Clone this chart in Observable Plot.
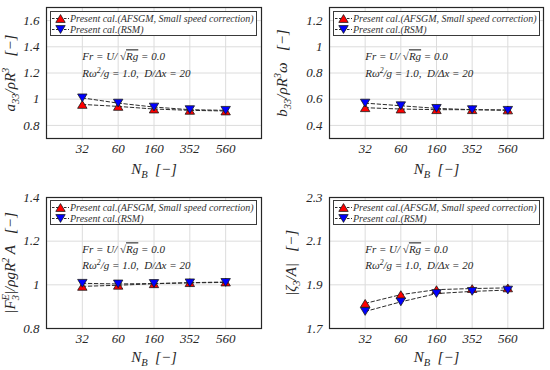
<!DOCTYPE html>
<html>
<head>
<meta charset="utf-8">
<script src="https://cdn.jsdelivr.net/npm/d3@7"></script>
<script src="https://cdn.jsdelivr.net/npm/@observablehq/plot@0.6"></script>
<style>
  body { margin: 0; background: #fff; }
  #root { position: relative; width: 550px; height: 370px; overflow: hidden; background: #fff; }
  .panel { position: absolute; width: 275px; height: 185px; }
  .panel svg.plot { position: absolute; left: 0; top: 0; }
  .legend { position: absolute; border: 1px solid #3a3a3a; background: #fff;
    font-family: "Liberation Serif", "DejaVu Serif", serif; font-style: italic; font-size: 10px; color: #333;
    line-height: 11px; padding: 0.5px 2px 0.5px 1px; white-space: nowrap; }
  .legend .row { display: flex; align-items: center; height: 11px; }
  .legend svg { margin-right: 1px; }
</style>
</head>
<body>
<div id="root"></div>
<script>
// ---- data ----
const NB = ["32", "60", "160", "352", "560"];
const seriesNames = ["Present cal.(AFSGM, Small speed correction)", "Present cal.(RSM)"];

const a33_afsgm = [0.96, 0.945, 0.925, 0.915, 0.91];
const a33_rsm   = [1.01, 0.97, 0.94, 0.92, 0.915];
const b33_afsgm = [0.535, 0.525, 0.52, 0.52, 0.518];
const b33_rsm   = [0.57, 0.55, 0.53, 0.52, 0.515];
const f3_afsgm  = [0.993, 0.998, 1.005, 1.01, 1.013];
const f3_rsm    = [1.007, 1.004, 1.006, 1.009, 1.011];
const z3_afsgm  = [1.815, 1.855, 1.878, 1.883, 1.886];
const z3_rsm    = [1.778, 1.822, 1.86, 1.87, 1.876];

const ticksA = [0.8, 1, 1.2, 1.4, 1.6];
const ticksB = [0.4, 0.6, 0.8, 1, 1.2];
const ticksF = [0.8, 1, 1.2, 1.4];
const ticksZ = [1.7, 1.9, 2.1, 2.3];

const yLabels = ["a_{33}/ρR^{3}   [−]", "b_{33}/ρR^{3}ω   [−]", "|F^{E}_{3}|/ρgR^{2} A   [−]", "|ζ_{3}/A|   [−]"];
const xLabel = "N_{B}  [−]";
const annot = ["Fr = U/ √~{Rg} = 0.0", "Rω^{2}/g = 1.0,  D/Δx = 20"];

// ---- symbols (bounding-box centred triangles) ----
const triUp = { draw(ctx, size) { const r = Math.sqrt(size / Math.PI); const w = 2.35 * r, h = 1.95 * r;
  ctx.moveTo(0, -h / 2); ctx.lineTo(w / 2, h / 2); ctx.lineTo(-w / 2, h / 2); ctx.closePath(); } };
const triDown = { draw(ctx, size) { const r = Math.sqrt(size / Math.PI); const w = 2.35 * r, h = 1.95 * r;
  ctx.moveTo(0, h / 2); ctx.lineTo(w / 2, -h / 2); ctx.lineTo(-w / 2, -h / 2); ctx.closePath(); } };

const FONT = "Liberation Serif, DejaVu Serif, serif";
const INK = "#262626";

function richText(el, fs) {
  const src = el.textContent;
  const re = /([_^~])\{([^}]*)\}/g;
  while (el.firstChild) el.removeChild(el.firstChild);
  const ns = "http://www.w3.org/2000/svg";
  let last = 0, off = 0, m, prevSup = null;
  const add = (txt, kind) => {
    const t = document.createElementNS(ns, "tspan");
    let target = 0;
    if (kind === "_") { target = 0.27 * fs; t.setAttribute("font-size", 0.7 * fs); }
    else if (kind === "^") { target = -0.38 * fs; t.setAttribute("font-size", 0.7 * fs); }
    if (kind === "_" && prevSup) t.setAttribute("dx", -prevSup);
    if (target !== off) { t.setAttribute("dy", target - off); off = target; }
    if (kind === "~") t.style.textDecoration = "overline";
    t.textContent = txt;
    el.appendChild(t);
  };
  while ((m = re.exec(src))) {
    if (m.index > last) { add(src.slice(last, m.index), ""); prevSup = null; }
    add(m[2], m[1]);
    prevSup = m[1] === "^" ? 0.6 * 0.7 * fs * m[2].length : null;
    last = re.lastIndex;
  }
  if (last < src.length) add(src.slice(last), "");
}

const panels = [
  { left: 0,   top: 0,   afsgm: a33_afsgm, rsm: a33_rsm, domain: [0.7, 1.7], ticks: ticksA, ylabel: yLabels[0],
    ml: 46, mr: 14, mt: 7,  mb: 47, ylo: 42, xlo: 35, ad: [45, 62], lg: 4 },
  { left: 275, top: 0,   afsgm: b33_afsgm, rsm: b33_rsm, domain: [0.3, 1.3], ticks: ticksB, ylabel: yLabels[1],
    ml: 54, mr: 7,  mt: 7,  mb: 47, ylo: 53, xlo: 35, ad: [45, 62], lg: 4 },
  { left: 0,   top: 185, afsgm: f3_afsgm,  rsm: f3_rsm,  domain: [0.8, 1.4], ticks: ticksF, ylabel: yLabels[2],
    ml: 46, mr: 14, mt: 12, mb: 42, ylo: 42, xlo: 33, ad: [48, 64], lg: 3 },
  { left: 275, top: 185, afsgm: z3_afsgm,  rsm: z3_rsm,  domain: [1.7, 2.3], ticks: ticksZ, ylabel: yLabels[3],
    ml: 54, mr: 7,  mt: 12, mb: 42, ylo: 44, xlo: 33, ad: [48, 64], lg: 3 }
];

const root = document.getElementById("root");
const idx = NB.map((_, i) => i);

for (const cfg of panels) {
  const A = cfg.afsgm.map((v, i) => ({ i, v }));
  const R = cfg.rsm.map((v, i) => ({ i, v }));
  const svg = Plot.plot({
    width: 275, height: 185,
    marginLeft: cfg.ml, marginRight: cfg.mr, marginTop: cfg.mt, marginBottom: cfg.mb,
    style: { fontFamily: FONT, fontStyle: "italic", fontSize: "13px", color: INK, background: "transparent", overflow: "visible" },
    x: { type: "linear", domain: [-1, 5] },
    y: { type: "linear", domain: cfg.domain },
    marks: [
      Plot.gridX(idx, { stroke: "#dcdcdc", strokeOpacity: 1, strokeWidth: 1 }),
      Plot.gridY(cfg.ticks, { stroke: "#dcdcdc", strokeOpacity: 1, strokeWidth: 1 }),
      Plot.axisX(idx, { tickSize: 0, tickPadding: 5.5, tickFormat: (i) => NB[i], label: xLabel,
        labelAnchor: "center", labelOffset: cfg.xlo, labelArrow: "none" }),
      Plot.axisY(cfg.ticks, { tickSize: 0, tickPadding: 7, tickFormat: (d) => String(d), label: cfg.ylabel,
        labelAnchor: "center", labelOffset: cfg.ylo, labelArrow: "none" }),
      Plot.text([annot[0]], { x: () => 0, frameAnchor: "top", dy: cfg.ad[0], textAnchor: "start", fontSize: 11, fill: INK }),
      Plot.text([annot[1]], { x: () => 0, frameAnchor: "top", dy: cfg.ad[1], textAnchor: "start", fontSize: 11, fill: INK }),
      Plot.line(A, { x: "i", y: "v", stroke: "#2b2b2b", strokeWidth: 1, strokeDasharray: "3.5,2.5" }),
      Plot.line(R, { x: "i", y: "v", stroke: "#2b2b2b", strokeWidth: 1, strokeDasharray: "3.5,2.5" }),
      Plot.dot(A, { x: "i", y: "v", symbol: triUp, r: 4, fill: "#ff0000", stroke: "#1a1a1a", strokeWidth: 0.8 }),
      Plot.dot(R, { x: "i", y: "v", symbol: triDown, r: 4, fill: "#0000ff", stroke: "#1a1a1a", strokeWidth: 0.8 }),
      Plot.frame({ stroke: INK, strokeWidth: 1.2 })
    ]
  });
  svg.setAttribute("font-family", FONT);

  // rich text (sub/superscripts, overline)
  svg.querySelectorAll('g[aria-label="x-axis label"] text, g[aria-label="y-axis label"] text').forEach((t) => {
    t.setAttribute("font-size", 15);
    richText(t, 15);
  });
  svg.querySelectorAll("text").forEach((t) => {
    if (/[_^~]\{/.test(t.textContent)) richText(t, 11);
  });

  const div = document.createElement("div");
  div.className = "panel";
  div.style.left = cfg.left + "px";
  div.style.top = cfg.top + "px";
  div.appendChild(svg);

  // legend
  const lg = document.createElement("div");
  lg.className = "legend";
  lg.style.left = (cfg.ml + 4) + "px";
  lg.style.top = (cfg.mt + cfg.lg) + "px";
  [[triUp, "#ff0000"], [triDown, "#0000ff"]].forEach(([sym, col], k) => {
    const row = document.createElement("div");
    row.className = "row";
    const path = d3.symbol(sym, Math.PI * 16)();
    row.innerHTML = `<svg width="17" height="11"><line x1="0" x2="17" y1="5.5" y2="5.5" stroke="#2b2b2b" stroke-dasharray="2.5,1.5"/>` +
      `<path transform="translate(8.5,5.5)" d="${path}" fill="${col}" stroke="#1a1a1a" stroke-width="0.8"/></svg>`;
    const sp = document.createElement("span");
    sp.textContent = seriesNames[k];
    row.appendChild(sp);
    lg.appendChild(row);
  });
  div.appendChild(lg);
  root.appendChild(div);
}
</script>
</body>
</html>
